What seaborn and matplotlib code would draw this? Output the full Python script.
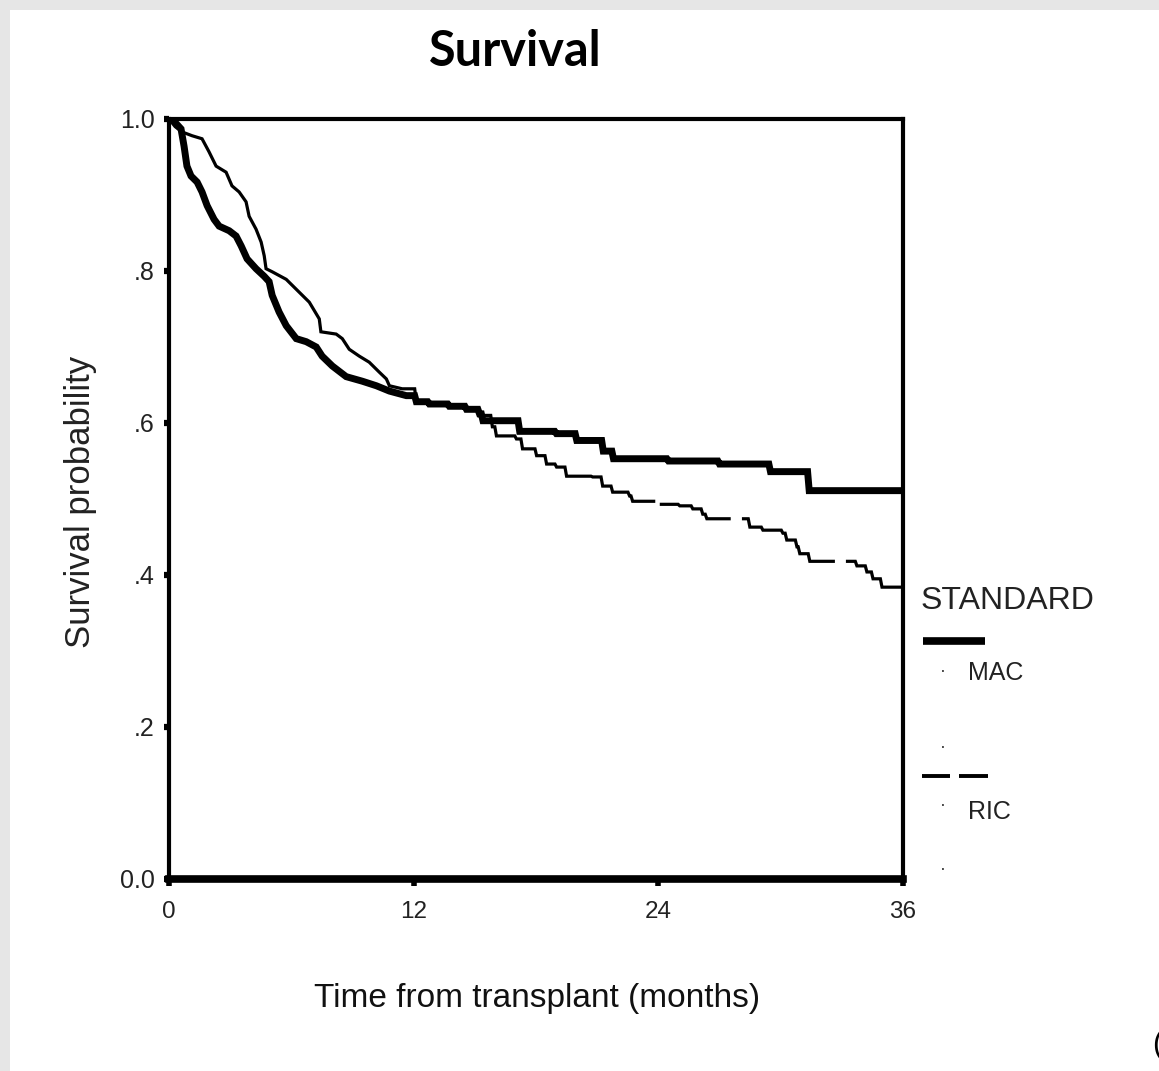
import numpy as np
import pandas as pd
import matplotlib
matplotlib.use("Agg")
import matplotlib.pyplot as plt
import seaborn as sns
from matplotlib.lines import Line2D
from matplotlib.patches import Rectangle

# ---- data (months, survival probability) ----
mac_months = [0, 0.15, 0.59, 0.74, 0.88, 1.08, 1.38, 1.62, 1.87, 2.21, 2.46, 2.95, 3.29,
              3.54, 3.83, 4.27, 4.67, 4.91, 5.06, 5.40, 5.75, 6.24, 6.73, 7.22, 7.51, 8.01,
              8.69, 9.48, 10.17, 10.81, 11.64, 12.13, 12.77, 13.75, 14.59, 15.23, 15.40,
              17.2, 19.0, 20.0, 21.3, 21.8, 24.5, 27.0, 29.5, 31.4, 36.0]
mac_surv = [1.0, 1.0, 0.987, 0.964, 0.938, 0.925, 0.917, 0.904, 0.886, 0.868, 0.859, 0.853,
            0.846, 0.833, 0.816, 0.803, 0.793, 0.786, 0.768, 0.746, 0.728, 0.711, 0.707,
            0.700, 0.688, 0.675, 0.661, 0.655, 0.649, 0.642, 0.636, 0.628, 0.625, 0.622,
            0.618, 0.612, 0.603, 0.589, 0.586, 0.577, 0.563, 0.553, 0.550, 0.546, 0.536,
            0.511, 0.511]

ric_months = [0, 0.3, 0.64, 1.13, 1.62, 1.96, 2.31, 2.80, 3.09, 3.44, 3.78, 3.93, 4.27,
              4.52, 4.67, 4.76, 5.06, 5.75, 6.39, 6.88, 7.37, 7.45, 8.20, 8.50, 8.84, 9.33,
              9.82, 10.31, 10.66, 10.81, 11.44, 12.13, 12.77, 13.75, 14.59, 15.23, 15.86,
              16.06, 17.04, 17.34, 18.03, 18.52, 19.01, 19.50, 20.78, 21.27, 21.76, 22.59,
              22.74, 24.07, 25.05, 25.69, 26.18, 26.38, 28.49, 29.13, 30.11, 30.30, 30.80,
              30.94, 31.43, 33.74, 34.23, 34.53, 34.97, 36.0]
ric_surv = [1.0, 0.99, 0.983, 0.978, 0.974, 0.957, 0.938, 0.930, 0.912, 0.904, 0.891, 0.872,
            0.855, 0.838, 0.820, 0.803, 0.799, 0.789, 0.772, 0.759, 0.737, 0.720, 0.717,
            0.711, 0.697, 0.688, 0.680, 0.667, 0.658, 0.649, 0.645, 0.628, 0.625, 0.622,
            0.618, 0.610, 0.595, 0.583, 0.579, 0.566, 0.557, 0.546, 0.542, 0.530, 0.529,
            0.517, 0.509, 0.504, 0.497, 0.493, 0.491, 0.487, 0.480, 0.474, 0.463, 0.459,
            0.455, 0.446, 0.437, 0.428, 0.418, 0.412, 0.404, 0.395, 0.384, 0.384]

# breaks in the dashed RIC line (months)
ric_gaps = [(23.85, 24.07), (27.55, 28.1), (32.66, 33.2)]

x_ticks = [0, 12, 24, 36]
y_ticks = [0.0, 0.2, 0.4, 0.6, 0.8, 1.0]
y_tick_labels = ["0.0", ".2", ".4", ".6", ".8", "1.0"]

# early, dense part is drawn as a jagged line, later part as plain steps
STEP_FROM = 12


def path_vertices(t, s):
    xs, ys = [t[0]], [s[0]]
    for i in range(1, len(t)):
        if t[i] > STEP_FROM and s[i] != s[i - 1]:
            xs.append(t[i] - 0.08)
            ys.append(s[i - 1])
        xs.append(t[i])
        ys.append(s[i])
    return xs, ys


def cut_gaps(xs, ys, gaps):
    pts = list(zip(xs, ys))
    dense = [pts[0]]
    for (x0, y0), (x1, y1) in zip(pts, pts[1:]):
        if x1 > x0:
            for b in sorted(b for g in gaps for b in g if x0 < b < x1):
                dense.append((b, y0 + (y1 - y0) * (b - x0) / (x1 - x0)))
        dense.append((x1, y1))
    pieces, cur = [], [dense[0]]
    for p, q in zip(dense, dense[1:]):
        mid = (p[0] + q[0]) / 2
        if any(a < mid < b for a, b in gaps):
            if len(cur) > 1:
                pieces.append(cur)
            cur = [q]
        else:
            cur.append(q)
    if len(cur) > 1:
        pieces.append(cur)
    return pieces


rows = []
mx, my = path_vertices(mac_months, mac_surv)
for x, y in zip(mx, my):
    rows.append({"month": x, "surv": y, "group": "MAC", "seg": "MAC0"})
rx, ry = path_vertices(ric_months, ric_surv)
for k, piece in enumerate(cut_gaps(rx, ry, ric_gaps)):
    for x, y in piece:
        rows.append({"month": x, "surv": y, "group": "RIC", "seg": f"RIC{k}"})
df = pd.DataFrame(rows)

# ---- style ----
sns.set_theme(style="white")
plt.rcParams["font.family"] = ["Liberation Sans", "DejaVu Sans"]

fig = plt.figure(figsize=(11.59, 10.71), dpi=100, facecolor="#e6e6e6")
fig.patches.append(Rectangle((10 / 1159, 0), 1, 1 - 10 / 1071, transform=fig.transFigure,
                             facecolor="white", edgecolor="none", zorder=-10))

ax = fig.add_axes([169 / 1159, 1 - 879 / 1071, 734 / 1159, 760 / 1071])
ax.set_facecolor("white")

sns.lineplot(data=df, x="month", y="surv", hue="group", palette={"MAC": "black", "RIC": "black"},
             size="group", sizes={"MAC": 5.0, "RIC": 2.3}, units="seg", estimator=None,
             sort=False, legend=False, ax=ax, solid_capstyle="butt", solid_joinstyle="miter")

ax.set_xlim(0, 36)
ax.set_ylim(0, 1)
ax.set_xticks(x_ticks)
ax.set_xticklabels([str(t) for t in x_ticks], fontsize=17.5, color="#222222")
ax.set_yticks(y_ticks)
ax.set_yticklabels(y_tick_labels, fontsize=18, color="#222222")
ax.tick_params(axis="y", direction="out", length=3.5, width=4.5, color="black", pad=7, left=True)
ax.tick_params(axis="x", direction="out", length=5.0, width=4.0, color="black", pad=11, bottom=True)

for side in ["left", "top", "right"]:
    ax.spines[side].set_visible(True)
    ax.spines[side].set_color("black")
    ax.spines[side].set_linewidth(3.0)
ax.spines["bottom"].set_color("black")
ax.spines["bottom"].set_linewidth(5.5)

ax.set_xlabel("Time from transplant (months)", fontsize=24, color="#111111")
ax.xaxis.set_label_coords(0.501, -0.137)
ax.set_ylabel("Survival probability", fontsize=25, color="#222222")
ax.yaxis.set_label_coords(-0.098, 0.496)

fig.text(515 / 1159, 1 - 52 / 1071, "Survival", fontfamily=["Lato", "DejaVu Sans"],
         fontweight="bold", fontsize=35, ha="center", va="center", color="black")

# ---- legend drawn SPSS style on the right ----
def fx(px):
    return px / 1159


def fy(py):
    return 1 - py / 1071


fig.text(fx(921), fy(601), "STANDARD", fontsize=23, ha="left", va="center", color="#222222")
fig.add_artist(Line2D([fx(923), fx(985)], [fy(641), fy(641)], color="black", lw=5.5,
                      solid_capstyle="butt", transform=fig.transFigure))
fig.text(fx(968), fy(673), "MAC", fontsize=18, ha="left", va="center", color="#222222")
fig.add_artist(Line2D([fx(922), fx(950)], [fy(776), fy(776)], color="black", lw=2.8,
                      solid_capstyle="butt", transform=fig.transFigure))
fig.add_artist(Line2D([fx(959), fx(988)], [fy(776), fy(776)], color="black", lw=2.8,
                      solid_capstyle="butt", transform=fig.transFigure))
fig.text(fx(968), fy(812), "RIC", fontsize=18, ha="left", va="center", color="#222222")
for py in [672, 747, 806, 870]:
    fig.text(fx(943), fy(py), "·", fontsize=13, ha="center", va="center", color="#333333")

fig.text(fx(1152), fy(1045), "(", fontsize=22, ha="left", va="center", color="black")

fig.savefig("out.png", dpi=100, facecolor=fig.get_facecolor())
